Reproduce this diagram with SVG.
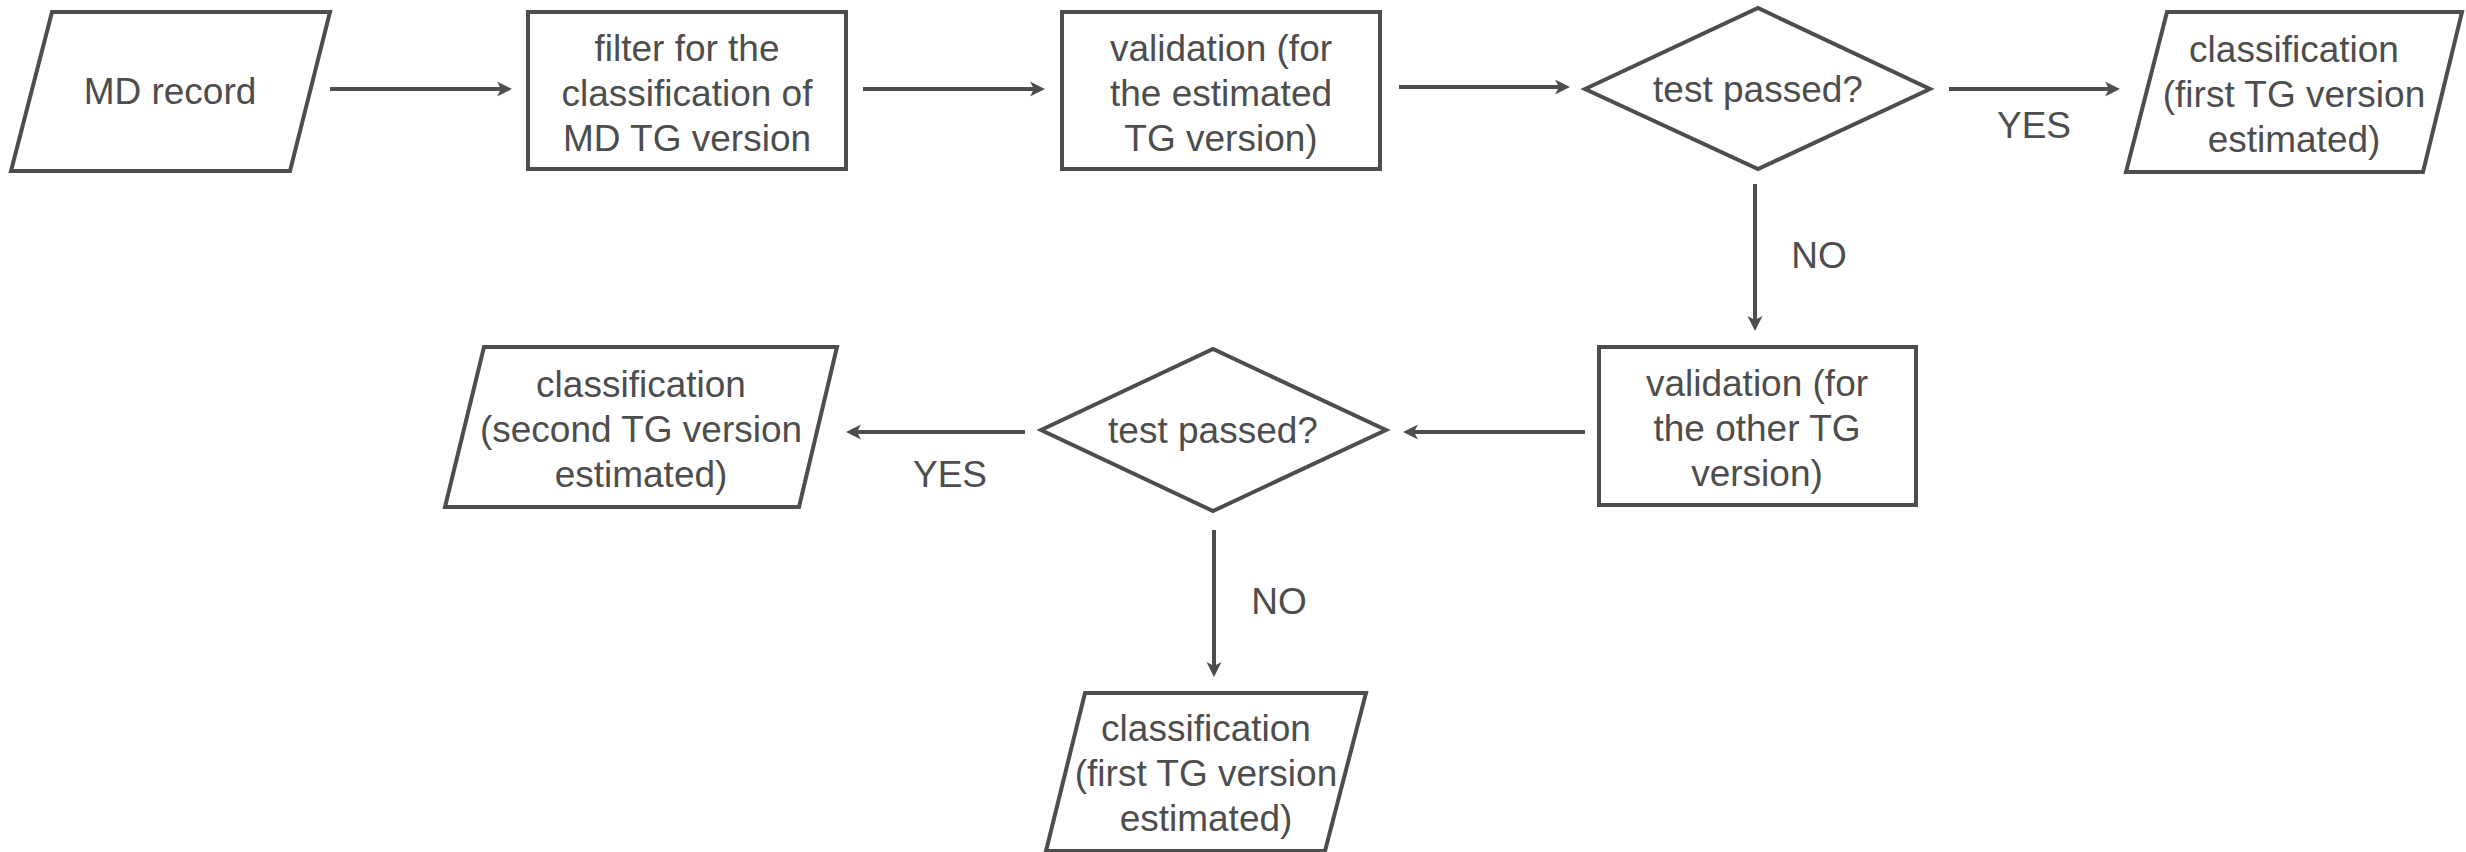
<svg xmlns="http://www.w3.org/2000/svg" width="2466" height="852" viewBox="0 0 2466 852">
  <style>
    .shape { fill: #ffffff; stroke: #4d4d4d; stroke-width: 4; stroke-linejoin: miter; }
    .edge { fill: none; stroke: #4d4d4d; stroke-width: 4; }
    text { font-family: "Liberation Sans", Arial, sans-serif; font-size: 37px; fill: #4d4d4d; text-anchor: middle; }
  </style>
  <defs>
    <marker id="arrow" markerUnits="userSpaceOnUse" viewBox="0 0 16 16" markerWidth="16" markerHeight="16" refX="5" refY="8" orient="auto">
      <path d="M15,8 L0,0.5 L4,8 L0,15.5 Z" fill="#4d4d4d"/>
    </marker>
  </defs>
  <rect width="2466" height="852" fill="#ffffff"/>

  <!-- connectors -->
  <g id="connectors">
    <line class="edge" x1="330" y1="89" x2="502" y2="89" marker-end="url(#arrow)"/>
    <line class="edge" x1="863" y1="89" x2="1035" y2="89" marker-end="url(#arrow)"/>
    <line class="edge" x1="1399" y1="87" x2="1560" y2="87" marker-end="url(#arrow)"/>
    <line class="edge" x1="1949" y1="89" x2="2110" y2="89" marker-end="url(#arrow)"/>
    <line class="edge" x1="1755" y1="184" x2="1755" y2="321" marker-end="url(#arrow)"/>
    <line class="edge" x1="1585" y1="432" x2="1413" y2="432" marker-end="url(#arrow)"/>
    <line class="edge" x1="1025" y1="432" x2="856" y2="432" marker-end="url(#arrow)"/>
    <line class="edge" x1="1214" y1="530" x2="1214" y2="667" marker-end="url(#arrow)"/>
    <text x="2034" y="138">YES</text>
    <text x="1819" y="268">NO</text>
    <text x="950" y="487">YES</text>
    <text x="1279" y="614">NO</text>
  </g>

  <!-- input record -->
  <g id="md-record">
    <polygon class="shape" points="52,12 330,12 290,171 11,171"/>
    <text x="170" y="104">MD record</text>
  </g>

  <!-- filter step -->
  <g id="filter">
    <rect class="shape" x="528" y="12" width="318" height="157"/>
    <text x="687" y="61">filter for the</text>
    <text x="687" y="106">classification of</text>
    <text x="687" y="151">MD TG version</text>
  </g>

  <!-- first validation -->
  <g id="validation-estimated">
    <rect class="shape" x="1062" y="12" width="318" height="157"/>
    <text x="1221" y="61">validation (for</text>
    <text x="1221" y="106">the estimated</text>
    <text x="1221" y="151">TG version)</text>
  </g>

  <!-- first decision -->
  <g id="test-1">
    <polygon class="shape" points="1585,89 1758,8 1930,89 1758,169"/>
    <text x="1758" y="102">test passed?</text>
  </g>

  <!-- result: first version -->
  <g id="result-first-top">
    <polygon class="shape" points="2167,12 2462,12 2423,172 2126,172"/>
    <text x="2294" y="62">classification</text>
    <text x="2294" y="107">(first TG version</text>
    <text x="2294" y="152">estimated)</text>
  </g>

  <!-- second validation -->
  <g id="validation-other">
    <rect class="shape" x="1599" y="347" width="317" height="158"/>
    <text x="1757" y="396">validation (for</text>
    <text x="1757" y="441">the other TG</text>
    <text x="1757" y="486">version)</text>
  </g>

  <!-- second decision -->
  <g id="test-2">
    <polygon class="shape" points="1041,430 1213,349 1386,430 1213,511"/>
    <text x="1213" y="443">test passed?</text>
  </g>

  <!-- result: second version -->
  <g id="result-second">
    <polygon class="shape" points="484,347 837,347 799,507 445,507"/>
    <text x="641" y="397">classification</text>
    <text x="641" y="442">(second TG version</text>
    <text x="641" y="487">estimated)</text>
  </g>

  <!-- result: first version (fallback) -->
  <g id="result-first-bottom">
    <polygon class="shape" points="1085,693 1366,693 1325,851 1046,851"/>
    <text x="1206" y="741">classification</text>
    <text x="1206" y="786">(first TG version</text>
    <text x="1206" y="831">estimated)</text>
  </g>
</svg>
